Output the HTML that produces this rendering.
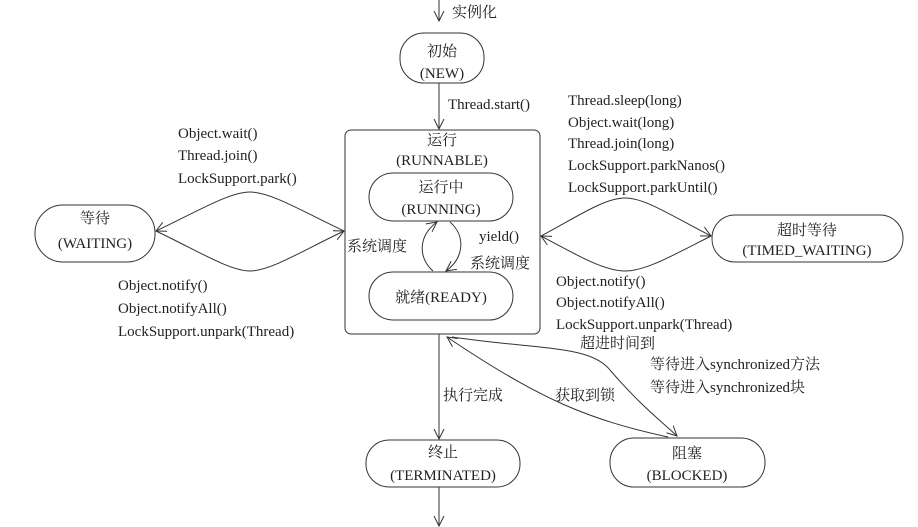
<!DOCTYPE html>
<html><head><meta charset="utf-8"><style>
html,body{margin:0;padding:0;background:#fff;}
svg{display:block}
text{font-family:"Liberation Serif","Noto Serif CJK SC",serif;font-size:15px;fill:#222;}
</style></head><body>
<svg width="918" height="527" viewBox="0 0 918 527" xmlns="http://www.w3.org/2000/svg">
<defs>
<marker id="a" markerWidth="12" markerHeight="12" refX="10" refY="6" orient="auto" markerUnits="userSpaceOnUse">
<path d="M0,1 L10,6 L0,11" fill="none" stroke="#333" stroke-width="1"/></marker>
</defs>
<g fill="none" stroke="#333" stroke-width="1">
<line x1="439" y1="0" x2="439" y2="21" marker-end="url(#a)"/>
<rect x="400" y="33" width="84" height="50" rx="24"/>
<line x1="439" y1="83" x2="439" y2="129" marker-end="url(#a)"/>
<rect x="345" y="130" width="195" height="204" rx="6"/>
<rect x="369" y="173" width="144" height="48" rx="24"/>
<rect x="369" y="272" width="144" height="48" rx="24"/>
<path d="M433,271 C418,258 418,236 437,222" marker-end="url(#a)"/>
<path d="M450,222 C466,236 464,258 446,271" marker-end="url(#a)"/>
<rect x="35" y="205" width="120" height="57" rx="28"/>
<path d="M344,231 C300,210 270,192 250,192 C230,192 200,210 156,231" marker-end="url(#a)"/>
<path d="M156,231 C200,252 230,271 250,271 C270,271 300,252 344,231" marker-end="url(#a)"/>
<rect x="712" y="215" width="191" height="47" rx="23"/>
<path d="M541,236 C580,215 605,198 625,198 C645,198 670,215 711,236" marker-end="url(#a)"/>
<path d="M711,236 C670,257 645,271 625,271 C605,271 580,257 541,236" marker-end="url(#a)"/>
<line x1="439" y1="334" x2="439" y2="439" marker-end="url(#a)"/>
<rect x="366" y="440" width="154" height="47" rx="23"/>
<line x1="439" y1="487" x2="439" y2="526" marker-end="url(#a)"/>
<rect x="610" y="438" width="155" height="49" rx="24"/>
<path d="M668,437 C590,420 540,400 447,337" marker-end="url(#a)"/>
<path d="M452,337 C540,350 590,345 610,370 C640,405 660,420 677,436" marker-end="url(#a)"/>
</g>
<text x="452" y="17">实例化</text>
<text x="442" y="56" text-anchor="middle">初始</text>
<text x="442" y="78" text-anchor="middle">(NEW)</text>
<text x="448" y="109">Thread.start()</text>
<text x="442" y="145" text-anchor="middle">运行</text>
<text x="442" y="165" text-anchor="middle">(RUNNABLE)</text>
<text x="441" y="192" text-anchor="middle">运行中</text>
<text x="441" y="214" text-anchor="middle">(RUNNING)</text>
<text x="441" y="302" text-anchor="middle">就绪(READY)</text>
<text x="347" y="251">系统调度</text>
<text x="479" y="241">yield()</text>
<text x="470" y="268">系统调度</text>
<text x="95" y="223" text-anchor="middle">等待</text>
<text x="95" y="248" text-anchor="middle">(WAITING)</text>
<text x="178" y="138">Object.wait()</text>
<text x="178" y="160">Thread.join()</text>
<text x="178" y="183">LockSupport.park()</text>
<text x="118" y="290">Object.notify()</text>
<text x="118" y="313">Object.notifyAll()</text>
<text x="118" y="336">LockSupport.unpark(Thread)</text>
<text x="807" y="235" text-anchor="middle">超时等待</text>
<text x="807" y="255" text-anchor="middle">(TIMED_WAITING)</text>
<text x="568" y="105">Thread.sleep(long)</text>
<text x="568" y="127">Object.wait(long)</text>
<text x="568" y="148">Thread.join(long)</text>
<text x="568" y="170">LockSupport.parkNanos()</text>
<text x="568" y="192">LockSupport.parkUntil()</text>
<text x="556" y="286">Object.notify()</text>
<text x="556" y="307">Object.notifyAll()</text>
<text x="556" y="329">LockSupport.unpark(Thread)</text>
<text x="580" y="348">超进时间到</text>
<text x="650" y="369">等待进入synchronized方法</text>
<text x="650" y="392">等待进入synchronized块</text>
<text x="443" y="400">执行完成</text>
<text x="555" y="400">获取到锁</text>
<text x="443" y="457" text-anchor="middle">终止</text>
<text x="443" y="480" text-anchor="middle">(TERMINATED)</text>
<text x="687" y="458" text-anchor="middle">阻塞</text>
<text x="687" y="480" text-anchor="middle">(BLOCKED)</text>
</svg>
</body></html>
